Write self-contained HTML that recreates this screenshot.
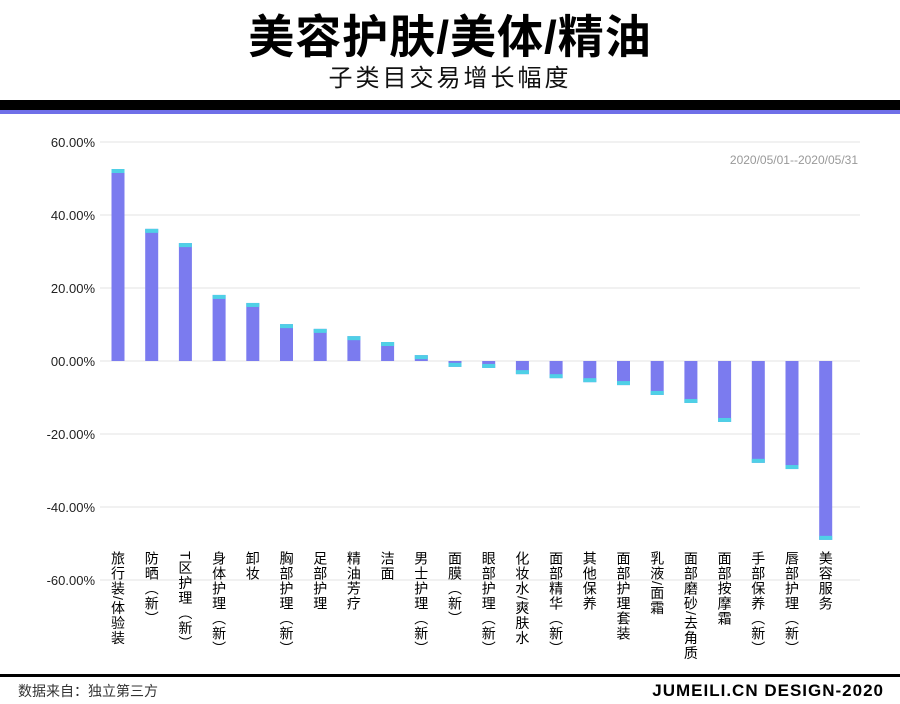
<!DOCTYPE html>
<html><head><meta charset="utf-8"><style>
body{margin:0;width:900px;height:704px;background:#fff;overflow:hidden;font-family:"Liberation Sans","Noto Sans CJK SC",sans-serif;position:relative}
.t{position:absolute;left:0;width:900px;text-align:center}
.lbl{position:absolute;top:551px;writing-mode:vertical-rl;font-size:14px;line-height:14px;color:#000;letter-spacing:1px}
</style></head><body>
<div class="t" style="top:1px;font-size:46px;font-weight:bold;color:#000;letter-spacing:1px">美容护肤/美体/精油</div>
<div class="t" style="top:58px;font-size:24px;color:#111;letter-spacing:3px">子类目交易增长幅度</div>
<div style="position:absolute;left:0;top:100px;width:900px;height:10px;background:#000"></div>
<div style="position:absolute;left:0;top:110px;width:900px;height:4px;background:#6f6fe8"></div>
<div style="position:absolute;right:42px;top:153px;font-size:12px;color:#999">2020/05/01--2020/05/31</div>
<svg id="c" width="900" height="704" style="position:absolute;left:0;top:0"></svg>
<div id="labels"></div>
<div style="position:absolute;left:0;top:674px;width:900px;height:3px;background:#000"></div>
<div style="position:absolute;left:18px;top:681px;font-size:14px;color:#333">数据来自：独立第三方</div>
<div style="position:absolute;right:16px;top:681px;font-size:17px;font-weight:bold;color:#000;letter-spacing:1px">JUMEILI.CN DESIGN-2020</div>
<script>
const categories=["旅行装/体验装","防晒（新）","T区护理（新）","身体护理（新）","卸妆","胸部护理（新）","足部护理","精油芳疗","洁面","男士护理（新）","面膜（新）","眼部护理（新）","化妆水/爽肤水","面部精华（新）","其他保养","面部护理套装","乳液/面霜","面部磨砂/去角质","面部按摩霜","手部保养（新）","唇部护理（新）","美容服务"];
const values=[52.6,36.2,32.3,18.1,15.9,10.1,8.8,6.8,5.2,1.6,-1.6,-1.9,-3.6,-4.7,-5.8,-6.6,-9.3,-11.5,-16.7,-27.9,-29.6,-49.0];
const ticks=[60,40,20,0,-20,-40,-60];
const tickLabels=["60.00%","40.00%","20.00%","00.00%","-20.00%","-40.00%","-60.00%"];
const svg=document.getElementById('c');const NS="http://www.w3.org/2000/svg";
const y=v=>361-v*3.65;
const x=i=>118+i*33.7;
function mk(t,a){const e=document.createElementNS(NS,t);for(const k in a)e.setAttribute(k,a[k]);svg.appendChild(e);return e;}
ticks.forEach((t,i)=>{
 const g=mk('line',{x1:100,x2:860,y1:y(t),y2:y(t),stroke:'#e3e3e3','stroke-width':1});
 
 
 const tx=mk('text',{x:95,y:y(t)+5,'text-anchor':'end','font-size':13,fill:'#222','font-family':'Liberation Sans, sans-serif'});
 tx.textContent=tickLabels[i];
 
 
});
const L=document.getElementById('labels');
values.forEach((v,i)=>{
 const top=Math.min(y(v),y(0)),h=Math.abs(y(v)-y(0));
 const r=mk('rect',{x:x(i)-6.5,y:top,width:13,height:h,fill:'#7b7bef'});
 
 
 const cy=v>=0?top:top+h-4;
 const c=mk('rect',{x:x(i)-6.5,y:cy,width:13,height:Math.min(4,h),fill:'#4fd0e6'});
 
 
 const d=document.createElement('div');d.className='lbl';d.textContent=categories[i];
 d.style.left=(x(i)-7)+'px';
 
 
 L.appendChild(d);
});
</script>
</body></html>
